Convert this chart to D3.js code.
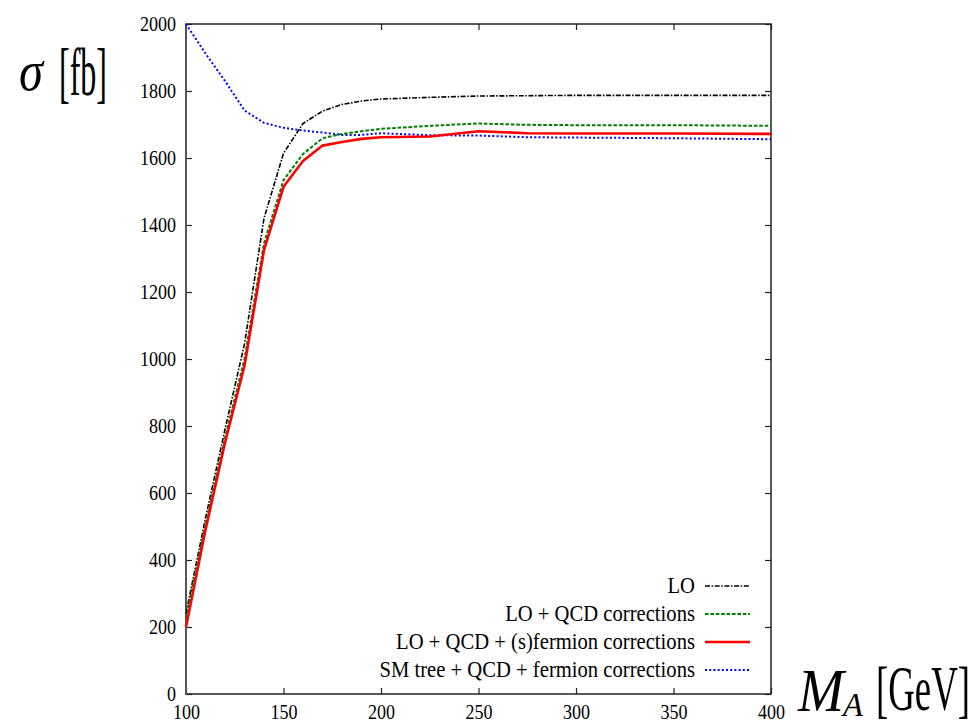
<!DOCTYPE html>
<html>
<head>
<meta charset="utf-8">
<script src="https://cdn.jsdelivr.net/npm/d3@7"></script>
<style>
  body { margin: 0; background: #fff; }
  svg { display: block; }
  svg text { font-family: "Liberation Serif", "Times New Roman", Times, "DejaVu Serif", serif; }
</style>
</head>
<body>
<svg id="chart" width="975" height="726"></svg>
<script>
// ---- data ----
const massValues = [100, 110, 120, 130, 140, 150, 160, 170, 180, 190, 200, 225, 250, 275, 300, 350, 400];
const loValues    = [240, 525, 790, 1045, 1420, 1614, 1703, 1740, 1760, 1770, 1776, 1781, 1785, 1786, 1787, 1787, 1787];
const qcdValues   = [225, 505, 765, 1000, 1345, 1534, 1612, 1659, 1672, 1680, 1687, 1696, 1703, 1699, 1698, 1698, 1696];
const fullValues  = [200, 490, 750, 980, 1325, 1514, 1591, 1637, 1648, 1657, 1662, 1664, 1680, 1674, 1673, 1673, 1672];
const smValues    = [2000, 1912, 1830, 1742, 1705, 1690, 1682, 1676, 1669, 1669, 1674, 1668, 1667, 1662, 1661, 1659, 1656];
const seriesNames = ["LO", "LO + QCD corrections", "LO + QCD + (s)fermion corrections", "SM tree + QCD + fermion corrections"];
const xTickValues = [100, 150, 200, 250, 300, 350, 400];
const yTickValues = [0, 200, 400, 600, 800, 1000, 1200, 1400, 1600, 1800, 2000];

// ---- styles ----
const styles = [
  {values: loValues,   color: "#000000", width: 1.6, dash: "5,1.6,1.5,1.6"},
  {values: qcdValues,  color: "#008000", width: 2,   dash: "3.6,1.8"},
  {values: fullValues, color: "#ff0000", width: 2.6, dash: null},
  {values: smValues,   color: "#0000ff", width: 2,   dash: "2,2.2"}
];

const svg = d3.select("#chart");
const pL = 186, pR = 771, pT = 24, pB = 694;
const x = d3.scaleLinear().domain([100, 400]).range([pL, pR]);
const y = d3.scaleLinear().domain([0, 2000]).range([pB, pT]);
const SX = 0.86;

function styleAxis(g, withLabels) {
  g.attr("font-family", null).attr("font-size", 21);
  g.select(".domain").remove();
  g.selectAll(".tick line").attr("stroke", "#222").attr("stroke-width", 1.2);
  if (withLabels) {
    g.selectAll(".tick text").attr("fill", "#000").each(function() {
      const t = d3.select(this);
      const xv = +t.attr("x") || 0;
      t.attr("x", xv / SX).attr("transform", `scale(${SX},1)`);
    });
  }
}

svg.append("g").attr("transform", `translate(${pL},0)`)
  .call(d3.axisLeft(y).tickValues(yTickValues).tickSize(-6).tickPadding(10).tickFormat(d3.format("d")))
  .call(g => styleAxis(g, true));
svg.append("g").attr("transform", `translate(${pR},0)`)
  .call(d3.axisRight(y).tickValues(yTickValues).tickSize(-6).tickFormat(""))
  .call(g => styleAxis(g, false));
svg.append("g").attr("transform", `translate(0,${pB})`)
  .call(d3.axisBottom(x).tickValues(xTickValues).tickSize(-6).tickPadding(10).tickFormat(d3.format("d")))
  .call(g => styleAxis(g, true));
svg.append("g").attr("transform", `translate(0,${pT})`)
  .call(d3.axisTop(x).tickValues(xTickValues).tickSize(-6).tickFormat(""))
  .call(g => styleAxis(g, false));

// frame
svg.append("rect").attr("x", pL).attr("y", pT).attr("width", pR - pL).attr("height", pB - pT)
  .attr("fill", "none").attr("stroke", "#222").attr("stroke-width", 1.5);
svg.append("line").attr("x1", pL).attr("x2", pL).attr("y1", pT).attr("y2", pB + 1)
  .attr("stroke", "#555").attr("stroke-width", 2);

// lines
const line = d3.line().x((d, i) => x(massValues[i])).y(d => y(d));
const plot = svg.append("g");
[3, 0, 1, 2].forEach(k => {
  const s = styles[k];
  plot.append("path").datum(s.values)
    .attr("d", line)
    .attr("fill", "none")
    .attr("stroke", s.color)
    .attr("stroke-width", s.width)
    .attr("stroke-dasharray", s.dash)
    .attr("stroke-linejoin", "round");
});

// legend
const legY = [586, 614, 642, 670];
const leg = svg.append("g");
seriesNames.forEach((name, i) => {
  const s = styles[i];
  leg.append("text")
    .attr("transform", `translate(695,${legY[i] + 7}) scale(${SX},1)`)
    .attr("text-anchor", "end")
    .attr("font-size", 24)
    .attr("fill", "#000")
    .text(name);
  leg.append("line")
    .attr("x1", 705).attr("x2", 750)
    .attr("y1", legY[i]).attr("y2", legY[i])
    .attr("stroke", s.color)
    .attr("stroke-width", s.width)
    .attr("stroke-dasharray", s.dash);
});

// axis titles: fit to a target width by horizontal scaling
function fitText(str, x0, y0, size, italic, targetW) {
  const t = svg.append("text")
    .attr("font-size", size)
    .attr("font-style", italic ? "italic" : "normal")
    .attr("fill", "#000")
    .text(str);
  const w = t.node().getComputedTextLength() || targetW;
  const s = targetW / w;
  t.attr("transform", `translate(${x0},${y0}) scale(${s},1)`);
  return t;
}
fitText("σ", 19, 90, 58, true, 24);
fitText("[fb]", 59, 95, 68, false, 48);
fitText("M", 798, 711, 62, true, 46);
fitText("A", 843, 716, 34, true, 20);
fitText("[GeV]", 876, 710, 64, false, 94);
</script>
</body>
</html>
